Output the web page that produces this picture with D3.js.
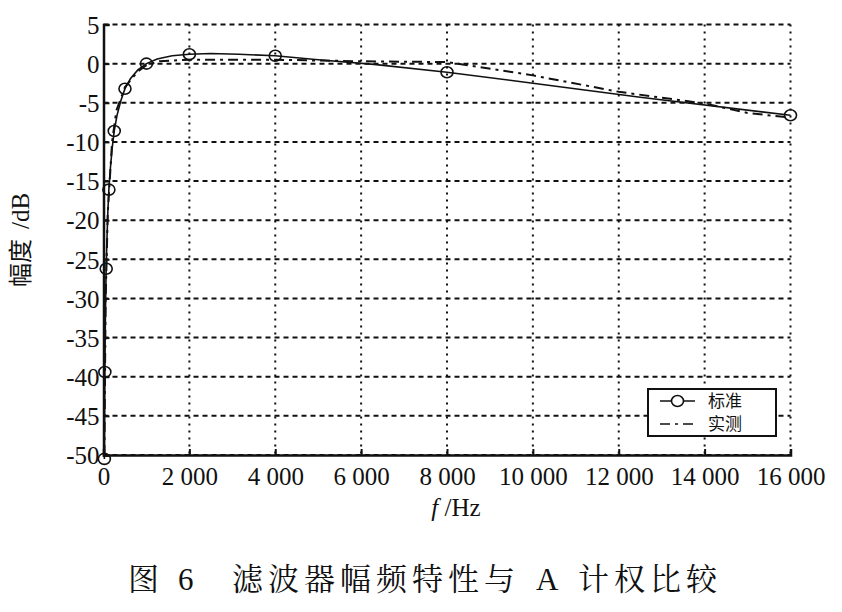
<!DOCTYPE html>
<html><head><meta charset="utf-8">
<script src="https://cdn.jsdelivr.net/npm/d3@7/dist/d3.min.js"></script>
<style>body{margin:0;background:#fff}</style>
</head><body>
<svg id="c" width="842" height="612"></svg>
<script>
// Standard A-weighting curve (1/3 octave), markers at octave points
const stdFreq  = [20,25,31.5,40,50,63,80,100,125,160,200,250,315,400,500,630,800,1000,1250,1600,2000,2500,3150,4000,5000,6300,8000,10000,12500,16000];
const stdValue = [-50.5,-44.7,-39.4,-34.6,-30.2,-26.2,-22.5,-19.1,-16.1,-13.4,-10.9,-8.6,-6.6,-4.8,-3.2,-1.9,-0.8,0,0.6,1.0,1.2,1.3,1.2,1.0,0.5,-0.1,-1.1,-2.5,-4.3,-6.6];
const markerFreq = [20,31.5,63,125,250,500,1000,2000,4000,8000,16000];
// Measured filter response
const measFreq  = [20,50,100,200,300,500,800,1000,1300,2000,3000,4000,6000,8000,10000,12000,14000,15000,16000];
const measValue = [-50,-30,-19,-10,-6,-3,-1,-0.2,0.3,0.5,0.5,0.5,0.3,0.2,-1.5,-3.6,-5.1,-6.3,-6.9];
const xTicks = [0,2000,4000,6000,8000,10000,12000,14000,16000];
const yTicks = [5,0,-5,-10,-15,-20,-25,-30,-35,-40,-45,-50];
const seriesNames = ["标准","实测"];

const svg = d3.select("#c");
const L=103.5, R=790.5, T=24.5, B=455;
const x = d3.scaleLinear().domain([0,16000]).range([L,R]);
const y = d3.scaleLinear().domain([-50,5]).range([B,T]);
const fmtX = v => v===0 ? "0" : d3.format(",")(v).replace(/,/g," ");
const fmtY = v => String(v);
const serif = "'Liberation Serif','Times New Roman',serif";
const cjk = "'Noto Sans CJK SC',sans-serif";

// grid
svg.append("g").selectAll("line").data(yTicks).join("line")
  .attr("x1",L).attr("x2",R).attr("y1",d=>y(d)).attr("y2",d=>y(d))
  .attr("stroke","#111").attr("stroke-width",2).attr("stroke-dasharray","5,4");
svg.append("g").selectAll("line").data(xTicks.slice(1)).join("line")
  .attr("x1",d=>x(d)).attr("x2",d=>x(d)).attr("y1",T).attr("y2",B)
  .attr("stroke","#111").attr("stroke-width",2).attr("stroke-dasharray","2,5");

// axes
const xAxis = svg.append("g").attr("transform",`translate(0,${B})`)
  .call(d3.axisBottom(x).tickValues(xTicks).tickFormat(fmtX).tickSize(-6).tickPadding(12));
const yAxis = svg.append("g").attr("transform",`translate(${L},0)`)
  .call(d3.axisLeft(y).tickValues(yTicks).tickFormat(fmtY).tickSize(-6).tickPadding(4));
[xAxis,yAxis].forEach(a=>{
  a.select(".domain").attr("stroke","#111").attr("stroke-width",2.5);
  a.selectAll(".tick line").attr("stroke","#111").attr("stroke-width",2);
  a.selectAll("text").attr("font-family",serif).attr("font-size",25).attr("fill","#111");
});
yAxis.selectAll("text").attr("dy","0.35em");

// lines
const line = d3.line().x(d=>x(d[0])).y(d=>y(d[1]));
svg.append("path").datum(stdFreq.map((f,i)=>[f,stdValue[i]]))
  .attr("d",line).attr("fill","none").attr("stroke","#111").attr("stroke-width",1.6);
svg.append("path").datum(measFreq.map((f,i)=>[f,measValue[i]]))
  .attr("d",line).attr("fill","none").attr("stroke","#111").attr("stroke-width",2)
  .attr("stroke-dasharray","10,5,3,5");
svg.append("g").selectAll("ellipse").data(markerFreq).join("ellipse")
  .attr("cx",d=>x(d)).attr("cy",d=>y(stdValue[stdFreq.indexOf(d)]))
  .attr("rx",6).attr("ry",5.5).attr("fill","none").attr("stroke","#111").attr("stroke-width",1.6);

// legend
const lg = svg.append("g");
lg.append("rect").attr("x",648).attr("y",389).attr("width",128).attr("height",47)
  .attr("fill","#fff").attr("stroke","#111").attr("stroke-width",2);
lg.append("line").attr("x1",660).attr("x2",695).attr("y1",401).attr("y2",401).attr("stroke","#111").attr("stroke-width",1.6);
lg.append("ellipse").attr("cx",677.5).attr("cy",401).attr("rx",6).attr("ry",5.5).attr("fill","#fff").attr("stroke","#111").attr("stroke-width",1.6);
lg.append("line").attr("x1",660).attr("x2",695).attr("y1",424).attr("y2",424).attr("stroke","#111").attr("stroke-width",1.6).attr("stroke-dasharray","10,5,3,5");
lg.selectAll("text").data(seriesNames).join("text")
  .attr("x",708).attr("y",(d,i)=>401+i*23).attr("dy","0.35em")
  .attr("font-family",cjk).attr("font-size",17).attr("fill","#111").text(d=>d);

// axis titles
svg.append("text").attr("transform","translate(29,240) rotate(-90)").attr("text-anchor","middle")
  .attr("fill","#111")
  .call(t=>{t.append("tspan").attr("font-family",cjk).attr("font-size",24).text("幅度");
            t.append("tspan").attr("font-family",serif).attr("font-size",25).attr("dx",10).text("/dB");});
svg.append("text").attr("x",456).attr("y",516).attr("text-anchor","middle")
  .attr("font-family",serif).attr("font-size",25).attr("fill","#111")
  .call(t=>{t.append("tspan").attr("font-style","italic").text("f");
            t.append("tspan").text(" /Hz");});
// caption
const cap = svg.append("text").attr("y",590)
  .attr("font-family","'Noto Serif CJK SC','Noto Sans CJK SC',serif").attr("font-size",31)
  .attr("letter-spacing",5).attr("fill","#111");
cap.append("tspan").attr("x",128).text("图");
cap.append("tspan").attr("x",178).attr("font-family",serif).text("6");
cap.append("tspan").attr("x",232).text("滤波器幅频特性与");
cap.append("tspan").attr("x",536).attr("font-family",serif).text("A");
cap.append("tspan").attr("x",578).text("计权比较");
</script>
</body></html>
